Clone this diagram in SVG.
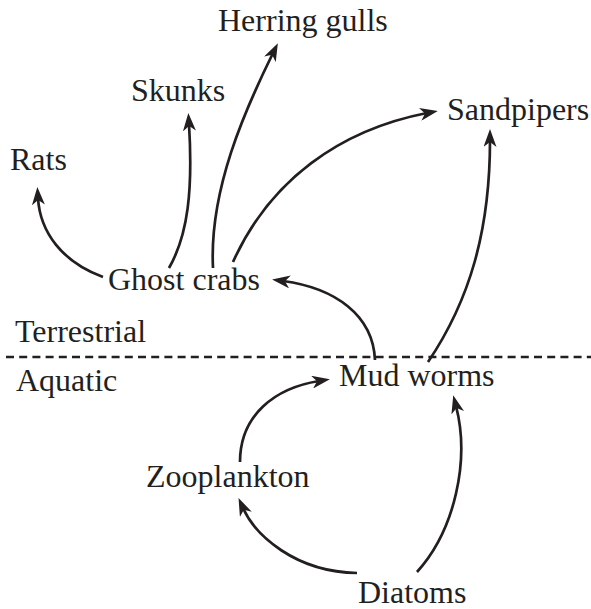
<svg xmlns="http://www.w3.org/2000/svg" width="591" height="609" viewBox="0 0 591 609">
<defs>
<style>
text{font-family:"Liberation Serif","Times New Roman",serif;font-size:32px;fill:#231f20}
.c{fill:none;stroke:#231f20;stroke-width:2.7;marker-end:url(#ah)}
.d{fill:none;stroke:#231f20;stroke-width:2.4;stroke-dasharray:8 5.2}
</style>
<marker id="ah" viewBox="0 0 18 13" refX="7" refY="6.5" markerWidth="18" markerHeight="13" markerUnits="userSpaceOnUse" orient="auto">
<path d="M0,0 L18,6.5 L0,13 L5,6.5 Z" fill="#231f20"/>
</marker>
</defs>
<rect width="591" height="609" fill="#fff"/>
<line class="d" x1="6" y1="357" x2="591" y2="357"/>
<text x="15" y="342">Terrestrial</text>
<text x="16" y="391">Aquatic</text>
<g id="connectors">
<path class="c" d="M103,277 C62,262 40,232 38,198"/>
<path class="c" d="M169,268 C188,235 193,190 189,124"/>
<path class="c" d="M213,268 C209,190 245,110 273,53"/>
<path class="c" d="M233,262 C270,180 340,130 427,113"/>
<path class="c" d="M375,360 C373,315 335,288 283,281"/>
<path class="c" d="M428,362 C470,300 490,230 490,140"/>
<path class="c" d="M240,462 C240,415 275,388 319,381"/>
<path class="c" d="M357,573 C295,572 255,535 243,508"/>
<path class="c" d="M417,572 C455,530 470,460 456,406"/>
</g>
<g id="herring-gulls"><text x="218" y="31">Herring gulls</text></g>
<g id="skunks"><text x="131" y="101">Skunks</text></g>
<g id="rats"><text x="10" y="170">Rats</text></g>
<g id="ghost-crabs"><text x="108" y="290">Ghost crabs</text></g>
<g id="sandpipers"><text x="447" y="120">Sandpipers</text></g>
<g id="mud-worms"><text x="339" y="386">Mud worms</text></g>
<g id="zooplankton"><text x="146" y="487">Zooplankton</text></g>
<g id="diatoms"><text x="358" y="603">Diatoms</text></g>
</svg>
